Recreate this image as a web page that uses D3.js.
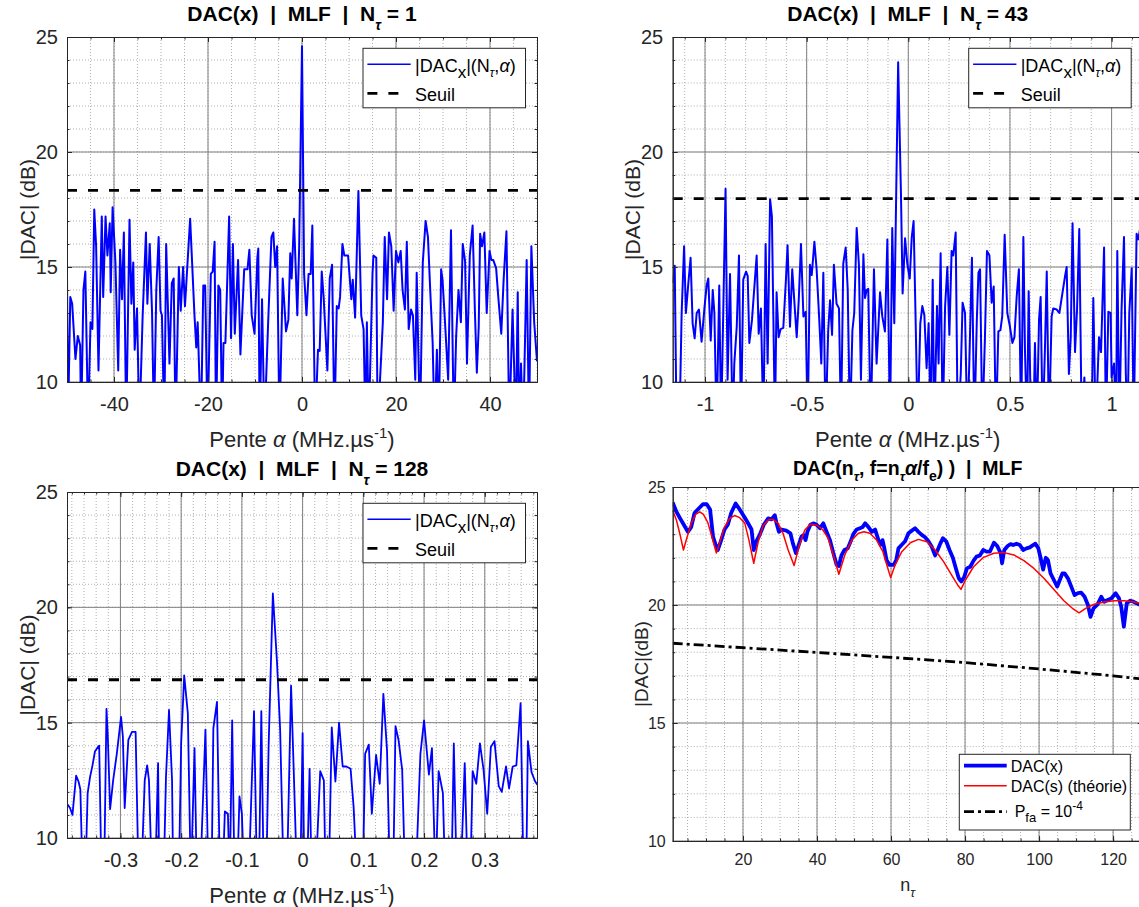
<!DOCTYPE html>
<html><head><meta charset="utf-8">
<script src="https://cdn.jsdelivr.net/npm/d3@7"></script>
<style>
body{margin:0;background:#fff;}
svg{display:block;}
text{white-space:pre;}
</style></head><body>
<svg id="fig" width="1139" height="907"></svg>
<script>
// ---------------- DATA ----------------
// Panel 1 : N_tau = 1
const alphaN1 = [-50,-49.8,-49.3,-48.9,-48.2,-47.7,-47.2,-47.0,-46.5,-46.1,-45.5,-45.0,-44.6,-44.2,-43.8,-43.3,-42.6,-42.3,-41.8,-41.4,-40.9,-40.7,-40.3,-39.7,-39.1,-38.7,-38.3,-37.9,-37.4,-36.7,-36.3,-35.9,-35.6,-35.1,-34.6,-33.9,-33.2,-32.9,-32.4,-31.9,-31.5,-31.0,-30.5,-30.1,-29.8,-29.3,-28.9,-28.2,-27.7,-27.3,-26.9,-26.2,-25.8,-25.3,-24.9,-23.8,-22.9,-22.5,-22.2,-21.5,-21.0,-20.6,-20.1,-19.4,-19.0,-18.6,-18.3,-17.8,-17.4,-17.0,-16.7,-16.3,-15.5,-15.1,-14.7,-14.3,-13.6,-13.1,-12.3,-11.6,-11.2,-10.7,-10.1,-9.5,-9.3,-9.0,-8.5,-8.0,-7.2,-6.5,-6.1,-5.7,-5.3,-4.8,-4.1,-3.4,-2.9,-2.5,-2.2,-1.7,-1.0,-0.6,0,0.45,0.95,1.4,1.85,2.2,2.8,3.4,3.76,4.2,4.6,5.4,5.9,6.4,6.9,7.4,7.8,8.1,8.6,9.0,9.8,10.5,10.8,11.3,12.0,12.6,13.1,13.5,13.8,14.2,15.0,15.2,15.8,16.1,17.2,17.6,18.1,18.5,19.0,19.5,20.0,20.5,21.0,21.4,21.9,22.3,22.7,23.2,23.6,24.1,24.4,25.1,25.7,26.3,26.8,27.3,27.8,28.2,28.7,29.1,29.6,29.9,30.4,31.1,31.7,32.3,32.8,33.3,33.8,34.2,34.7,35.1,35.7,36.3,36.8,37.2,37.6,37.9,38.3,38.8,39.3,39.9,40.3,40.7,41.3,41.8,42.4,42.9,43.5,44.1,44.8,45.5,45.9,46.2,46.6,47.0,47.3,47.8,48.3,48.8,49.4,50];
const dacN1 = [14.7,8,13.7,13.4,11.0,12.0,11.6,8,14.0,14.8,8,12.6,12.3,17.5,15.9,10.5,17.2,13.7,17.2,15.5,16.9,13.9,17.6,15.2,10.5,15.75,13.6,16.5,8,17.05,13.4,15.2,11.4,13.2,8,12.9,16.5,13.4,16.0,13.0,8,14.0,16.3,13.1,12.9,8,16.0,10.8,14.3,14.5,8,15.0,13.1,15.0,13.3,17.1,13.0,11.5,12.6,8,14.2,14.2,8,14.7,14.8,16.1,8,14.2,14.0,8,11.7,11.7,17.2,11.9,16.0,12.1,15.3,11.2,14.9,14.9,15.75,12.9,12.1,15.4,15.8,8,13.6,8,12.6,16.3,16.5,15.0,15.9,8,14.5,12.2,12.7,15.6,14.5,17.1,12.9,15.9,24.6,14.7,12.9,14.7,14.7,16.8,8,11.4,11.35,14.8,13.7,10.5,14.5,15.1,8,13.3,13.2,13.7,16.0,15.5,15.5,13.6,14.45,12.8,18.3,12.9,12.3,8,12.6,8,14.7,15.5,15.4,8,12.6,16.3,13.6,16.5,15.9,13.1,15.7,15.2,15.7,14.0,13.15,16.1,12.3,13.15,12.9,10.1,14.75,8,15.2,17.0,16.3,13.9,11.7,8,11.4,8,14.9,14.45,12.7,10.1,16.6,8,12.0,14.0,12.6,16.0,15.25,10.8,15.5,16.8,13.0,10.4,12.4,16.45,15.9,16.5,13.0,15.7,15.3,15.3,14.95,13.6,12.1,14.45,16.55,8,13.15,8,13.9,8,10.8,8,10.3,15.3,8,15.9,12.6,10.9];
const seuilN1 = 18.33;

// Panel 2 : N_tau = 43
const alphaN43 = [-1.159,-1.149,-1.140,-1.126,-1.115,-1.103,-1.094,-1.082,-1.071,-1.061,-1.051,-1.041,-1.030,-1.017,-1.003,-0.992,-0.984,-0.972,-0.962,-0.954,-0.943,-0.930,-0.921,-0.899,-0.889,-0.877,-0.864,-0.856,-0.844,-0.833,-0.823,-0.812,-0.798,-0.790,-0.782,-0.769,-0.746,-0.736,-0.725,-0.713,-0.702,-0.692,-0.680,-0.671,-0.656,-0.648,-0.638,-0.628,-0.615,-0.602,-0.594,-0.582,-0.571,-0.561,-0.549,-0.539,-0.528,-0.516,-0.505,-0.495,-0.484,-0.475,-0.462,-0.451,-0.438,-0.428,-0.418,-0.407,-0.394,-0.385,-0.375,-0.366,-0.353,-0.341,-0.331,-0.320,-0.308,-0.298,-0.287,-0.275,-0.266,-0.254,-0.243,-0.233,-0.221,-0.213,-0.205,-0.197,-0.185,-0.169,-0.156,-0.139,-0.128,-0.115,-0.103,-0.090,-0.079,-0.069,-0.050,-0.036,-0.028,-0.016,-0.005,0.007,0.017,0.026,0.036,0.046,0.059,0.069,0.079,0.090,0.100,0.110,0.120,0.128,0.141,0.149,0.159,0.169,0.181,0.192,0.202,0.213,0.221,0.233,0.243,0.258,0.267,0.279,0.290,0.300,0.313,0.325,0.337,0.345,0.353,0.364,0.377,0.387,0.399,0.410,0.420,0.431,0.443,0.453,0.462,0.474,0.487,0.500,0.512,0.522,0.533,0.544,0.555,0.566,0.574,0.584,0.592,0.604,0.615,0.623,0.632,0.643,0.651,0.661,0.672,0.681,0.692,0.705,0.713,0.730,0.743,0.758,0.771,0.779,0.790,0.799,0.808,0.820,0.830,0.841,0.853,0.866,0.877,0.887,0.902,0.910,0.922,0.938,0.948,0.963,0.972,0.984,0.995,1.000,1.012,1.022,1.028,1.038,1.049,1.061,1.070,1.078,1.087,1.099,1.109,1.115,1.123,1.131,1.140,1.153];
const dacN43 = [14.3,15.05,8,8,13.0,15.9,13.0,14.3,15.4,12.55,11.9,13.0,13.15,11.75,13.2,14.2,14.5,11.8,14.0,13.0,8,14.2,8,18.4,10.1,14.7,8,10.8,12.4,15.5,8,14.45,14.8,14.6,11.7,12.7,15.5,12.1,13.2,8,16.0,10.8,17.95,17.2,8,13.9,11.95,12.3,12.35,14.45,15.95,12.4,14.9,13.55,11.95,13.55,16.0,12.85,13.05,8,15.1,14.65,16.1,14.9,12.7,10.8,14.75,8,12.25,13.55,12.05,15.1,13.4,13.2,8,15.15,15.85,14.0,8,12.25,13.0,16.7,15.1,10.1,15.55,13.65,14.0,14.05,8,14.9,10.8,13.9,12.85,12.2,16.2,8,16.7,12.55,23.9,18.1,13.85,16.25,15.15,14.5,16.3,17.0,12.7,8,12.55,13.3,12.9,10.6,12.55,8,14.45,8,13.3,10.8,15.6,8,13.3,15.0,12.05,15.7,15.5,16.5,8,10.35,13.45,13.0,8,10.8,15.4,8,12.7,14.75,14.9,8,11.95,15.7,15.5,13.45,14.15,8,12.2,12.25,12.85,16.4,13.0,12.4,11.7,11.95,13.7,14.9,8,16.3,11.3,8,13.95,8,8,11.7,8,12.7,13.7,8,11.4,14.8,8,12.85,13.2,13.15,13.0,13.85,14.6,15.0,10.35,11.95,16.9,11.3,13.15,16.65,8,10.2,8,8,8,13.65,8,11.95,11.3,15.85,8,13.05,13.0,10.2,10.8,8,15.7,8,13.15,16.3,10.35,8,13.0,14.95,8,11.7,16.45,16.2,16.65,15.0];
const seuilN43 = 17.97;

// Panel 3 : N_tau = 128
const alphaN128 = [-0.387,-0.383,-0.379,-0.373,-0.369,-0.366,-0.362,-0.358,-0.354,-0.350,-0.346,-0.342,-0.337,-0.335,-0.331,-0.327,-0.323,-0.321,-0.317,-0.312,-0.306,-0.299,-0.296,-0.293,-0.287,-0.281,-0.275,-0.270,-0.266,-0.260,-0.256,-0.253,-0.248,-0.243,-0.238,-0.236,-0.229,-0.225,-0.220,-0.215,-0.213,-0.204,-0.200,-0.195,-0.189,-0.184,-0.178,-0.174,-0.169,-0.160,-0.155,-0.150,-0.147,-0.141,-0.136,-0.132,-0.128,-0.123,-0.120,-0.116,-0.112,-0.108,-0.104,-0.100,-0.096,-0.089,-0.080,-0.075,-0.072,-0.068,-0.064,-0.060,-0.056,-0.049,-0.042,-0.037,-0.031,-0.026,-0.019,-0.015,-0.009,-0.004,0.000,0.003,0.007,0.0115,0.015,0.021,0.029,0.035,0.038,0.043,0.048,0.054,0.060,0.066,0.072,0.079,0.084,0.090,0.095,0.099,0.103,0.109,0.114,0.121,0.127,0.133,0.139,0.144,0.149,0.153,0.158,0.164,0.169,0.175,0.180,0.186,0.194,0.200,0.208,0.213,0.219,0.224,0.231,0.235,0.241,0.245,0.249,0.254,0.260,0.267,0.272,0.276,0.280,0.286,0.292,0.298,0.304,0.310,0.316,0.323,0.328,0.335,0.340,0.346,0.352,0.359,0.364,0.368,0.371,0.377,0.383,0.387];
const dacN128 = [11.45,11.3,11.0,12.7,12.45,12.1,8,8,11.95,12.65,13.15,13.75,13.95,14.0,8,8,15.6,14.55,11.25,12.5,13.65,15.25,14.4,11.3,14.25,14.6,14.6,8,8,12.5,13.15,12.5,8,8,13.25,8,8,12.65,15.55,12.5,8,8,14.1,17.05,15.4,8,13.9,8,8,14.7,8,8,14.75,15.9,8,8,11.15,11.05,8,15.1,8,8,11.8,11.05,8,8,15.5,8,8,15.5,8,8,13.95,20.6,17.55,14.7,8,8,16.6,13.25,8,8,14.55,8,8,13.0,8,8,12.9,12.5,8,8,14.8,12.45,15.0,13.1,13.1,13.0,11.35,8,8,8,13.65,14.05,11.05,13.6,12.35,16.25,13.8,8,8,14.85,14.25,12.95,8,8,8,8,13.65,15.1,12.75,13.9,8,12.9,11.95,8,8,8,14.1,8,8,13.25,8,8,12.9,12.35,14.1,12.95,11.05,13.95,14.2,12.25,12.0,13.1,12.15,13.1,13.15,15.85,8,8,14.2,12.85,12.45,12.3];
const seuilN128 = 16.86;

// Panel 4 : DAC vs n_tau
const nTauX = [1,2,3,4.2,5.1,6,6.9,8.1,9.2,10.2,11.1,11.9,12.6,13.2,14.1,15,15.9,16.8,18,19.1,20.5,21.6,22.3,22.9,23.6,24.5,25.6,26.8,27.7,28.6,29,29.7,30.4,31.7,32.8,33.5,34.3,34.9,35.8,36.4,36.9,37.4,38.2,39,39.9,40.8,41.7,42.6,43.5,44.4,45.3,45.9,46.6,47.4,48.3,49.1,49.8,50.7,51.6,52.3,53,53.9,54.8,55.7,56.6,57.2,57.7,58.1,58.8,59.6,60.7,61.4,62,62.9,63.8,64.7,65.6,66.5,67.4,68.3,69.2,70.1,71,71.9,72.6,73.3,74,74.9,75.8,76.7,77.6,78.3,79,79.8,80.5,81.4,82.3,83.1,84,84.9,85.8,86.7,87.8,88.7,89.6,90,90.6,91.5,92.3,93,93.9,94.8,95.7,96.6,97.5,98.4,99,99.8,100.4,101.1,101.8,102.4,103.1,104,104.9,105.6,106.3,106.9,107.8,108.7,109.6,110.5,111.4,112.3,113.2,113.9,114.7,115.8,116.8,117.6,118.4,119.5,120.7,121.6,122.2,122.9,123.7,124.6,125.5,126.4,127.3,128];
const dacX = [24.35,23.95,23.67,23.35,23.1,23.3,23.9,24.1,24.27,24.27,24.05,22.9,22.55,22.33,22.75,23.2,23.4,23.9,24.3,24.05,23.7,23.4,23.2,22.33,22.7,22.97,23.4,23.67,23.63,23.8,23.5,23.1,23.2,23.15,23.04,22.6,22.2,22.47,22.9,22.97,22.75,23.1,23.4,23.46,23.4,23.25,23.46,23.1,22.75,22.2,21.7,21.65,22.1,22.33,22.4,22.7,23.0,23.2,23.25,23.3,23.46,23.3,23.1,23.2,22.75,22.55,22.75,22.47,21.9,21.7,21.7,21.9,22.4,22.55,22.7,23.04,23.15,23.25,23.1,22.97,22.87,22.7,22.47,22.1,22.33,22.6,22.83,22.7,22.33,22.0,21.5,21.13,21.0,21.2,21.55,21.62,21.88,22.05,22.1,22.33,22.26,22.26,22.64,22.5,22.2,21.77,22.33,22.5,22.58,22.54,22.6,22.54,22.33,22.4,22.44,22.54,22.6,22.4,22.0,21.5,22.0,21.9,21.34,21.06,20.78,21.06,21.34,21.34,21.13,20.78,20.42,20.5,20.52,20.35,20.0,19.5,19.86,20.03,20.35,20.14,20.2,20.28,20.5,20.28,19.93,19.08,20.07,20.18,20.14,20.07,20.0,19.97];
const nTauS = [1,2,3,3.9,4.8,6,7.2,8.3,9.3,10.5,11.7,12.8,13.9,15,16.4,17.7,19.1,20.5,21.6,22.9,24.1,25.4,26.8,28.1,29.5,30.8,32.2,33.8,35.1,36.7,38.2,39.9,41.5,43,44.4,45.9,47.5,49.4,51.2,52.7,54.3,56.1,57.8,59,59.9,61.1,62.9,65.2,67.4,69.7,71.9,74.2,76.5,78,78.9,80.1,82.3,85,87.8,90.5,93.2,95.9,98.6,101.3,104,106.7,109,110.8,112.6,114.9,117.6,120.3,123,125.2,128];
const dacS = [24.0,23.6,22.97,22.33,22.83,23.46,23.84,23.95,23.84,23.49,22.83,22.2,22.75,23.3,23.67,23.79,23.7,23.46,22.75,21.77,22.68,23.35,23.6,23.63,23.46,23.04,22.33,21.67,22.47,23.18,23.42,23.39,23.2,22.83,22.12,21.3,22.12,22.75,23.04,23.1,23.04,22.75,22.26,21.62,21.16,21.7,22.26,22.64,22.78,22.68,22.33,21.84,21.23,20.85,20.66,21.06,21.62,22.02,22.19,22.22,22.12,21.88,21.55,21.13,20.66,20.18,19.86,19.67,19.86,20.03,20.13,20.18,20.18,20.14,20.06];
const nTauPfa = [1,20,40,60,80,100,120,128];
const pfaThreshold = [18.38,18.19,17.99,17.78,17.56,17.29,17.0,16.86];

// Ticks
const yTicks = [10,15,20,25];
const yMinor = d3.range(10,25.001,1);
const xTicksN1 = [-40,-20,0,20,40];
const xMinorN1 = d3.range(-50,50.001,5);
const xTicksN43 = [-1,-0.5,0,0.5,1];
const xMinorN43 = d3.range(-11,12,1).map(d=>d/10);
const xTicksN128 = [-0.3,-0.2,-0.1,0,0.1,0.2,0.3];
const xMinorN128 = d3.range(-19,20,1).map(d=>d/50);
const xTicksN = [20,40,60,80,100,120];
const xMinorN = d3.range(5,126,5);

// ---------------- DRAWING ----------------
const FONT = '"Liberation Sans", Arial, Helvetica, sans-serif';
const AX = "#262626";
const svg = d3.select("#fig").attr("font-family", FONT);
svg.append("rect").attr("width",1139).attr("height",907).attr("fill","#fff");

function rich(sel, parts) {
  let shift = 0;
  parts.forEach(p => {
    const ts = sel.append("tspan").text(p.t);
    const target = p.sub ? p.sub : (p.sup ? -p.sup : 0);
    ts.attr("dy", target - shift); shift = target;
    if (p.size) ts.attr("font-size", p.size);
    if (p.it) ts.attr("font-style", "italic");
  });
}

function styleAxis(sel, fs) {
  sel.attr("font-family", FONT).attr("font-size", fs);
  sel.select(".domain").attr("stroke", AX).attr("stroke-width", 1);
  sel.selectAll(".tick line").attr("stroke", AX);
  sel.selectAll(".tick text").attr("fill", AX);
}

function panel(c) {
  const g = svg.append("g");
  const x = d3.scaleLinear().domain(c.xDomain).range([c.left, c.right]);
  const y = d3.scaleLinear().domain([10, 25]).range([c.bottom, c.top]);
  const clipId = "clip-" + c.id;
  svg.append("clipPath").attr("id", clipId).append("rect")
    .attr("x", c.left).attr("y", c.top).attr("width", c.right - c.left).attr("height", c.bottom - c.top);

  const grid = g.append("g").attr("clip-path", `url(#${clipId})`);
  grid.selectAll(".mx").data(c.xMinor).join("line")
    .attr("x1", d => x(d)).attr("x2", d => x(d)).attr("y1", c.top).attr("y2", c.bottom)
    .attr("stroke", "#9c9c9c").attr("stroke-width", 0.8).attr("stroke-dasharray", "1,2");
  grid.selectAll(".my").data(yMinor).join("line")
    .attr("y1", d => y(d)).attr("y2", d => y(d)).attr("x1", c.left).attr("x2", c.right)
    .attr("stroke", "#9c9c9c").attr("stroke-width", 0.8).attr("stroke-dasharray", "1,2");
  grid.selectAll(".Mx").data(c.xMajor).join("line")
    .attr("x1", d => x(d)).attr("x2", d => x(d)).attr("y1", c.top).attr("y2", c.bottom)
    .attr("stroke", "#808080").attr("stroke-width", 1);
  grid.selectAll(".My").data(yTicks).join("line")
    .attr("y1", d => y(d)).attr("y2", d => y(d)).attr("x1", c.left).attr("x2", c.right)
    .attr("stroke", "#808080").attr("stroke-width", 1);

  const data = g.append("g").attr("clip-path", `url(#${clipId})`);

  const fmt = d => String(d);
  // minor ticks
  g.append("g").attr("transform", `translate(0,${c.bottom})`)
    .call(d3.axisBottom(x).tickValues(c.xMinor).tickFormat("").tickSize(-2.5).tickSizeOuter(0))
    .call(s => styleAxis(s, c.fs));
  g.append("g").attr("transform", `translate(0,${c.top})`)
    .call(d3.axisTop(x).tickValues(c.xMinor).tickFormat("").tickSize(-2.5).tickSizeOuter(0))
    .call(s => styleAxis(s, c.fs));
  g.append("g").attr("transform", `translate(${c.left},0)`)
    .call(d3.axisLeft(y).tickValues(yMinor).tickFormat("").tickSize(-2.5).tickSizeOuter(0))
    .call(s => styleAxis(s, c.fs));
  g.append("g").attr("transform", `translate(${c.right},0)`)
    .call(d3.axisRight(y).tickValues(yMinor).tickFormat("").tickSize(-2.5).tickSizeOuter(0))
    .call(s => styleAxis(s, c.fs));
  // major ticks + labels
  g.append("g").attr("transform", `translate(0,${c.bottom})`)
    .call(d3.axisBottom(x).tickValues(c.xMajor).tickFormat(fmt).tickSize(-5).tickSizeOuter(0).tickPadding(c.xPad))
    .call(s => styleAxis(s, c.fs));
  g.append("g").attr("transform", `translate(0,${c.top})`)
    .call(d3.axisTop(x).tickValues(c.xMajor).tickFormat("").tickSize(-5).tickSizeOuter(0))
    .call(s => styleAxis(s, c.fs));
  g.append("g").attr("transform", `translate(${c.left},0)`)
    .call(d3.axisLeft(y).tickValues(yTicks).tickFormat(fmt).tickSize(-5).tickSizeOuter(0).tickPadding(c.yPad))
    .call(s => styleAxis(s, c.fs));
  g.append("g").attr("transform", `translate(${c.right},0)`)
    .call(d3.axisRight(y).tickValues(yTicks).tickFormat("").tickSize(-5).tickSizeOuter(0))
    .call(s => styleAxis(s, c.fs));

  return { g, data, x, y };
}

function alphaPanel(c, xs, ys, seuil) {
  const p = panel(c);
  const line = d3.line().x(d => p.x(d[0])).y(d => p.y(d[1]));
  p.data.append("path").datum(d3.zip(xs, ys)).attr("d", line)
    .attr("fill", "none").attr("stroke", "#0000ff").attr("stroke-width", c.lw).attr("stroke-linejoin", "round");
  p.data.append("path").datum([[c.xDomain[0], seuil], [c.xDomain[1], seuil]]).attr("d", line)
    .attr("fill", "none").attr("stroke", "#000").attr("stroke-width", 2.8).attr("stroke-dasharray", "10,11");

  const cx = (c.left + c.right) / 2;
  // title
  const t = p.g.append("text").attr("x", cx).attr("y", c.top - 16).attr("text-anchor", "middle")
    .attr("font-size", 21).attr("font-weight", "bold").attr("fill", "#000");
  rich(t, [{t: "DAC(x)  |  MLF  |  N"}, {t: "τ", sub: 9, size: 14, it: true}, {t: " = " + c.nTau}]);
  // x label
  const xl = p.g.append("text").attr("x", cx).attr("y", c.bottom + 65).attr("text-anchor", "middle")
    .attr("font-size", 22).attr("fill", AX);
  rich(xl, [{t: "Pente "}, {t: "α", it: true}, {t: " (MHz.µs"}, {t: "-1", sup: 9, size: 15}, {t: ")"}]);
  // y label
  p.g.append("text").attr("transform", `translate(${c.yLabelX},${(c.top + c.bottom) / 2}) rotate(-90)`)
    .attr("text-anchor", "middle").attr("font-size", 21).attr("fill", AX).text("|DAC| (dB)");
  // legend
  const bx = c.right - 11.5 - 162.5, by = c.top + 11.3;
  const lg = p.g.append("g");
  lg.append("rect").attr("x", bx).attr("y", by).attr("width", 162.5).attr("height", 59.5)
    .attr("fill", "#fff").attr("stroke", AX).attr("stroke-width", 1);
  lg.append("line").attr("x1", bx + 4.4).attr("x2", bx + 47.7).attr("y1", by + 16).attr("y2", by + 16)
    .attr("stroke", "#0000ff").attr("stroke-width", 1.6);
  lg.append("line").attr("x1", bx + 4.4).attr("x2", bx + 37).attr("y1", by + 45).attr("y2", by + 45)
    .attr("stroke", "#000").attr("stroke-width", 2.8).attr("stroke-dasharray", "10,11");
  const l1 = lg.append("text").attr("x", bx + 52).attr("y", by + 23.4).attr("font-size", 18).attr("fill", "#000");
  rich(l1, [{t: "|DAC"}, {t: "x", sub: 6, size: 17}, {t: "|(N"}, {t: "τ", sub: 5, size: 12, it: true}, {t: ",", sub: 0}, {t: "α", it: true}, {t: ")"}]);
  lg.append("text").attr("x", bx + 52).attr("y", by + 52.4).attr("font-size", 18).attr("fill", "#000").text("Seuil");
}

alphaPanel({id: "p1", left: 67, right: 537, top: 37, bottom: 382, xDomain: [-50, 50],
  xMajor: xTicksN1, xMinor: xMinorN1, fs: 20, xPad: 15, yPad: 9, lw: 2, nTau: 1, yLabelX: 35}, alphaN1, dacN1, seuilN1);
alphaPanel({id: "p2", left: 672.7, right: 1142.7, top: 37, bottom: 382, xDomain: [-1.159, 1.153],
  xMajor: xTicksN43, xMinor: xMinorN43, fs: 20, xPad: 15, yPad: 9.5, lw: 2, nTau: 43, yLabelX: 640}, alphaN43, dacN43, seuilN43);
alphaPanel({id: "p3", left: 67, right: 537, top: 492, bottom: 838, xDomain: [-0.388, 0.386],
  xMajor: xTicksN128, xMinor: xMinorN128, fs: 20, xPad: 15, yPad: 9, lw: 1.8, nTau: 128, yLabelX: 35}, alphaN128, dacN128, seuilN128);

// Panel 4
(function () {
  const c = {id: "p4", left: 672.7, right: 1142.7, top: 487, bottom: 841, xDomain: [1, 128],
    xMajor: xTicksN, xMinor: xMinorN, fs: 16, xPad: 13, yPad: 7};
  const p = panel(c);
  const line = d3.line().x(d => p.x(d[0])).y(d => p.y(d[1]));
  p.data.append("path").datum(d3.zip(nTauX, dacX)).attr("d", line)
    .attr("fill", "none").attr("stroke", "#0000ff").attr("stroke-width", 3.8).attr("stroke-linejoin", "round");
  p.data.append("path").datum(d3.zip(nTauS, dacS)).attr("d", line)
    .attr("fill", "none").attr("stroke", "#ff0000").attr("stroke-width", 1.5).attr("stroke-linejoin", "round");
  p.data.append("path").datum(d3.zip(nTauPfa, pfaThreshold)).attr("d", line)
    .attr("fill", "none").attr("stroke", "#000").attr("stroke-width", 2.8).attr("stroke-dasharray", "10,4,3,4");

  const cx = (c.left + c.right) / 2;
  const t = p.g.append("text").attr("x", cx).attr("y", c.top - 12).attr("text-anchor", "middle")
    .attr("font-size", 19.5).attr("font-weight", "bold").attr("fill", "#000");
  rich(t, [{t: "DAC(n"}, {t: "τ", sub: 6, size: 13, it: true}, {t: ", f=n"}, {t: "τ", sub: 6, size: 13, it: true},
    {t: "α", it: true}, {t: "/f"}, {t: "e", sub: 6, size: 14}, {t: ") )  |  MLF"}]);
  const xl = p.g.append("text").attr("x", cx).attr("y", c.bottom + 50).attr("text-anchor", "middle")
    .attr("font-size", 18).attr("fill", AX);
  rich(xl, [{t: "n"}, {t: "τ", sub: 6, size: 13, it: true}]);
  p.g.append("text").attr("transform", `translate(648,${(c.top + c.bottom) / 2}) rotate(-90)`)
    .attr("text-anchor", "middle").attr("font-size", 19).attr("fill", AX).text("|DAC|(dB)");

  const bx = 959.3, by = 754.3;
  const lg = p.g.append("g");
  lg.append("rect").attr("x", bx).attr("y", by).attr("width", 171).attr("height", 75.7)
    .attr("fill", "#fff").attr("stroke", AX).attr("stroke-width", 1);
  const rows = [
    {dy: 11.4, color: "#0000ff", w: 3.8, dash: null},
    {dy: 31.4, color: "#ff0000", w: 1.5, dash: null},
    {dy: 57.4, color: "#000", w: 2.8, dash: "10,4,3,4"}];
  rows.forEach(r => {
    const l = lg.append("line").attr("x1", bx + 4.7).attr("x2", bx + 47.4).attr("y1", by + r.dy).attr("y2", by + r.dy)
      .attr("stroke", r.color).attr("stroke-width", r.w);
    if (r.dash) l.attr("stroke-dasharray", r.dash);
  });
  lg.append("text").attr("x", bx + 51.4).attr("y", by + 17.2).attr("font-size", 16).attr("fill", "#000").text("DAC(x)");
  lg.append("text").attr("x", bx + 51.4).attr("y", by + 37.2).attr("font-size", 16).attr("fill", "#000").text("DAC(s) (théorie)");
  const l3 = lg.append("text").attr("x", bx + 51.4 + 4).attr("y", by + 63).attr("font-size", 16).attr("fill", "#000");
  rich(l3, [{t: "P"}, {t: "fa", sub: 5, size: 13}, {t: " = 10"}, {t: "-4", sup: 7, size: 12}]);
})();
</script>
</body></html>
